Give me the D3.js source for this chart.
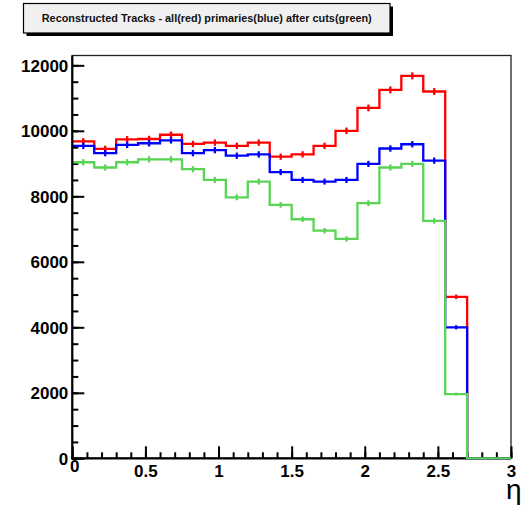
<!DOCTYPE html>
<html>
<head>
<meta charset="utf-8">
<script src="https://cdn.jsdelivr.net/npm/d3@7/dist/d3.min.js"></script>
<style>
  html, body { margin: 0; padding: 0; background: #fff; }
  svg { display: block; }
  .tick text { font-family: "Liberation Sans", Arial, Helvetica, sans-serif; font-weight: bold; font-size: 17px; fill: #000; }
</style>
</head>
<body>
<svg id="chart" width="522" height="506"></svg>
<script>
// Pseudorapidity bins (lower edges, width 0.15) and track counts per bin
const binLowEdges = [0, 0.15, 0.3, 0.45, 0.6, 0.75, 0.9, 1.05, 1.2, 1.35,
                     1.5, 1.65, 1.8, 1.95, 2.1, 2.25, 2.4, 2.55, 2.7, 2.85];
const binWidth = 0.15;

const allTracks = [9680, 9450, 9740, 9750, 9880, 9600, 9640, 9540, 9640, 9210,
                   9280, 9540, 10000, 10700, 11250, 11680, 11200, 4930, 0, 0];
const primaryTracks = [9540, 9320, 9570, 9620, 9710, 9320, 9410, 9240, 9280, 8740,
                       8500, 8450, 8500, 8990, 9460, 9590, 9090, 4000, 0, 0];
const afterCuts = [9040, 8880, 9040, 9130, 9130, 8830, 8500, 7970, 8450, 7740,
                   7300, 6950, 6700, 7790, 8880, 8990, 7250, 1960, 0, 0];

const seriesNames = ["all", "primaries", "after cuts"];
const seriesColors = ["#ff0000", "#0000ff", "#59d454"];

const yMajorTicks = [0, 2000, 4000, 6000, 8000, 10000, 12000];
const xMajorTicks = [0, 0.5, 1, 1.5, 2, 2.5, 3];
const xTickLabels = ["0", "0.5", "1", "1.5", "2", "2.5", "3"];

const titleText = "Reconstructed Tracks - all(red) primaries(blue) after cuts(green)";
const xAxisTitle = "η";

const svg = d3.select("#chart");

const x = d3.scaleLinear().domain([0, 3]).range([72.3, 511]);
const y = d3.scaleLinear().domain([0, 12300]).range([458.3, 55.5]);

// Frame around the plotting area
svg.append("rect")
  .attr("x", x(0)).attr("y", y(12300))
  .attr("width", x(3) - x(0)).attr("height", y(0) - y(12300))
  .attr("fill", "none").attr("stroke", "#222").attr("stroke-width", 1.3);

// Y axis: major ticks every 2000, minor every 500, ticks drawn inward
const yAxisG = svg.append("g").attr("transform", `translate(${x(0)},0)`);
yAxisG.call(d3.axisLeft(y).tickValues(d3.range(0, 12001, 500)).tickSize(-6).tickFormat(""))
  .call(g => g.select(".domain").remove());
const yMajor = svg.append("g").attr("transform", `translate(${x(0)},0)`)
  .call(d3.axisLeft(y).tickValues(yMajorTicks).tickSize(-12).tickSizeOuter(0).tickPadding(4).tickFormat(d3.format("d")));
yMajor.selectAll(".tick text").attr("dy", "0.36em");
yMajor.select(".domain").remove();

// X axis: major ticks every 0.5, minor every 0.1
const xAxisG = svg.append("g").attr("transform", `translate(0,${y(0)})`);
xAxisG.call(d3.axisBottom(x).tickValues(d3.range(0, 31).map(i => i / 10)).tickSize(-6).tickFormat(""))
  .call(g => g.select(".domain").remove());
const xMajor = svg.append("g").attr("transform", `translate(0,${y(0)})`)
  .call(d3.axisBottom(x).tickValues(xMajorTicks).tickSize(-12).tickSizeOuter(0).tickPadding(5)
    .tickFormat((d, i) => xTickLabels[i]));
xMajor.select(".domain").remove();
xMajor.selectAll(".tick text").attr("dy", "0.8em");
xMajor.selectAll(".tick").filter(d => d === 0).select("text").attr("dx", "2").attr("dy", "0.5em");
svg.selectAll(".tick line").attr("stroke", "#000").attr("stroke-width", 2);
svg.append("line")
  .attr("x1", x(0) - 1).attr("x2", x(3))
  .attr("y1", y(0)).attr("y2", y(0))
  .attr("stroke", "#000").attr("stroke-width", 2.2);

// Histograms drawn as steps with sqrt(N) error ticks at bin centres
const stepLine = d3.line()
  .x(d => x(d[0]))
  .y(d => y(d[1]))
  .curve(d3.curveStepAfter);

const allSeries = [allTracks, primaryTracks, afterCuts];
allSeries.forEach((vals, s) => {
  const pts = binLowEdges.map((e, i) => [e, vals[i]]);
  pts.push([binLowEdges[binLowEdges.length - 1] + binWidth, vals[vals.length - 1]]);
  const g = svg.append("g").attr("class", "hist " + seriesNames[s]);
  g.append("path")
    .attr("d", stepLine(pts))
    .attr("fill", "none")
    .attr("stroke", seriesColors[s])
    .attr("stroke-width", 2.3)
    .attr("stroke-linejoin", "miter");
  g.selectAll("line.err")
    .data(binLowEdges.map((e, i) => ({ c: e + binWidth / 2, v: vals[i] })).filter(d => d.v > 0))
    .join("line")
    .attr("class", "err")
    .attr("x1", d => x(d.c)).attr("x2", d => x(d.c))
    .attr("y1", d => y(d.v - Math.sqrt(d.v))).attr("y2", d => y(d.v + Math.sqrt(d.v)))
    .attr("stroke", seriesColors[s])
    .attr("stroke-width", 2.3);
});

// Y axis line on top of the histogram edges
svg.append("line")
  .attr("x1", x(0)).attr("x2", x(0))
  .attr("y1", y(0) + 1).attr("y2", y(12300))
  .attr("stroke", "#000").attr("stroke-width", 2.2);

// Axis title
svg.append("text")
  .attr("x", 506).attr("y", 499)
  .attr("font-family", "'Liberation Sans', Arial, Helvetica, sans-serif")
  .attr("font-size", 28)
  .attr("fill", "#000")
  .text(xAxisTitle);

// Title box with drop shadow
const tb = { x: 23.5, y: 3.5, w: 366.5, h: 29.5 };
svg.append("rect")
  .attr("x", tb.x + 3).attr("y", tb.y + 3).attr("width", tb.w).attr("height", tb.h)
  .attr("fill", "#000");
svg.append("rect")
  .attr("x", tb.x).attr("y", tb.y).attr("width", tb.w).attr("height", tb.h)
  .attr("fill", "#f0f0f0").attr("stroke", "#000").attr("stroke-width", 1.2);
svg.append("text")
  .attr("x", tb.x + tb.w / 2).attr("y", tb.y + tb.h / 2 + 3.5)
  .attr("text-anchor", "middle")
  .attr("font-family", "'Liberation Sans', Arial, Helvetica, sans-serif")
  .attr("font-weight", "bold")
  .attr("font-size", 10)
  .attr("textLength", 330)
  .attr("lengthAdjust", "spacingAndGlyphs")
  .attr("fill", "#111")
  .text(titleText);
</script>
</body>
</html>
